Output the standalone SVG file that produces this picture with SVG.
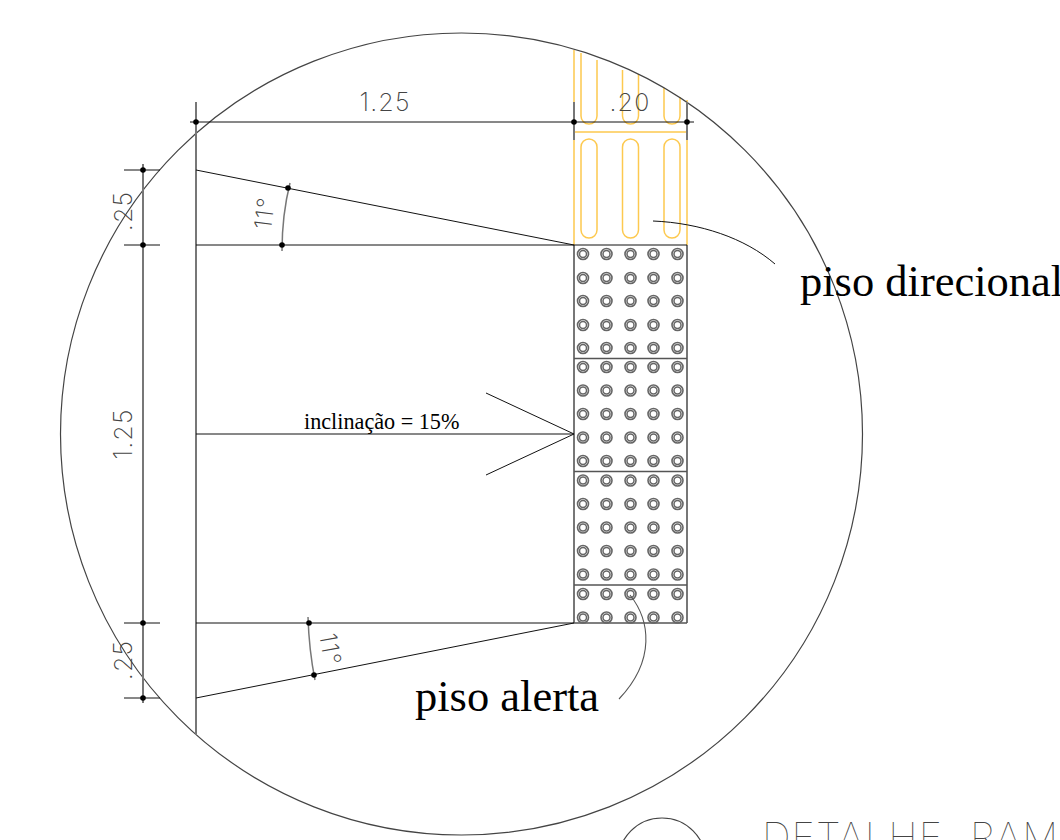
<svg xmlns="http://www.w3.org/2000/svg" width="1060" height="840" viewBox="0 0 1060 840">
<style>
.k{fill:none;stroke:#111;stroke-width:1}
.g{fill:none;stroke:#777;stroke-width:2}
.c{fill:none;stroke:#444;stroke-width:1.2}
.y{fill:none;stroke:#fdc94f;stroke-width:1.5}
.d{fill:#000}
.cad{font-family:"Inter","Liberation Sans",sans-serif;font-weight:200;fill:#444;font-size:25px;letter-spacing:1.2px}
.ser{font-family:"Liberation Serif","Times New Roman",serif;fill:#000}
</style>
<defs>
<g id="stud"><circle r="5.500" fill="none" stroke="#666" stroke-width="1.600"/><circle r="3.500" fill="none" stroke="#666" stroke-width="1.500"/></g>
<circle id="dot" r="2.800" class="d"/>
</defs>
<rect width="1060" height="840" fill="#fff"/>
<g id="piso-direcional">
<path class="y" d="M574 50V245M687 100V245M574 132H687"/>
<path class="y" d="M581 53V116a8 8 0 0 0 16 0V60"/>
<path class="y" d="M622.500 70V116a8 8 0 0 0 16 0V74"/>
<path class="y" d="M664 88V116a8 8 0 0 0 16 0V97"/>
<rect class="y" x="581" y="139" width="16" height="99" rx="8"/>
<rect class="y" x="622.500" y="139" width="16" height="99" rx="8"/>
<rect class="y" x="664" y="139" width="16" height="99" rx="8"/>
</g>
<g id="piso-alerta">
<path class="g" d="M574 245V623M687 245V623"/>
<path d="M574 358.500H687M574 471.500H687M574 585H687M574 623H687" fill="none" stroke="#555" stroke-width="1.300"/>
<path d="M574 245H687" class="k"/>
<g id="studs">
<use href="#stud" x="583" y="254"/><use href="#stud" x="606.500" y="254"/><use href="#stud" x="630.500" y="254"/><use href="#stud" x="653.500" y="254"/><use href="#stud" x="677.500" y="254"/>
<use href="#stud" x="583" y="278"/><use href="#stud" x="606.500" y="278"/><use href="#stud" x="630.500" y="278"/><use href="#stud" x="653.500" y="278"/><use href="#stud" x="677.500" y="278"/>
<use href="#stud" x="583" y="301"/><use href="#stud" x="606.500" y="301"/><use href="#stud" x="630.500" y="301"/><use href="#stud" x="653.500" y="301"/><use href="#stud" x="677.500" y="301"/>
<use href="#stud" x="583" y="325"/><use href="#stud" x="606.500" y="325"/><use href="#stud" x="630.500" y="325"/><use href="#stud" x="653.500" y="325"/><use href="#stud" x="677.500" y="325"/>
<use href="#stud" x="583" y="348"/><use href="#stud" x="606.500" y="348"/><use href="#stud" x="630.500" y="348"/><use href="#stud" x="653.500" y="348"/><use href="#stud" x="677.500" y="348"/>
<use href="#stud" x="583" y="367"/><use href="#stud" x="606.500" y="367"/><use href="#stud" x="630.500" y="367"/><use href="#stud" x="653.500" y="367"/><use href="#stud" x="677.500" y="367"/>
<use href="#stud" x="583" y="390.500"/><use href="#stud" x="606.500" y="390.500"/><use href="#stud" x="630.500" y="390.500"/><use href="#stud" x="653.500" y="390.500"/><use href="#stud" x="677.500" y="390.500"/>
<use href="#stud" x="583" y="414"/><use href="#stud" x="606.500" y="414"/><use href="#stud" x="630.500" y="414"/><use href="#stud" x="653.500" y="414"/><use href="#stud" x="677.500" y="414"/>
<use href="#stud" x="583" y="437.500"/><use href="#stud" x="606.500" y="437.500"/><use href="#stud" x="630.500" y="437.500"/><use href="#stud" x="653.500" y="437.500"/><use href="#stud" x="677.500" y="437.500"/>
<use href="#stud" x="583" y="461"/><use href="#stud" x="606.500" y="461"/><use href="#stud" x="630.500" y="461"/><use href="#stud" x="653.500" y="461"/><use href="#stud" x="677.500" y="461"/>
<use href="#stud" x="583" y="480.500"/><use href="#stud" x="606.500" y="480.500"/><use href="#stud" x="630.500" y="480.500"/><use href="#stud" x="653.500" y="480.500"/><use href="#stud" x="677.500" y="480.500"/>
<use href="#stud" x="583" y="504"/><use href="#stud" x="606.500" y="504"/><use href="#stud" x="630.500" y="504"/><use href="#stud" x="653.500" y="504"/><use href="#stud" x="677.500" y="504"/>
<use href="#stud" x="583" y="527.500"/><use href="#stud" x="606.500" y="527.500"/><use href="#stud" x="630.500" y="527.500"/><use href="#stud" x="653.500" y="527.500"/><use href="#stud" x="677.500" y="527.500"/>
<use href="#stud" x="583" y="551"/><use href="#stud" x="606.500" y="551"/><use href="#stud" x="630.500" y="551"/><use href="#stud" x="653.500" y="551"/><use href="#stud" x="677.500" y="551"/>
<use href="#stud" x="583" y="574.500"/><use href="#stud" x="606.500" y="574.500"/><use href="#stud" x="630.500" y="574.500"/><use href="#stud" x="653.500" y="574.500"/><use href="#stud" x="677.500" y="574.500"/>
<use href="#stud" x="583" y="594"/><use href="#stud" x="606.500" y="594"/><use href="#stud" x="630.500" y="594"/><use href="#stud" x="653.500" y="594"/><use href="#stud" x="677.500" y="594"/>
<use href="#stud" x="583" y="617.500"/><use href="#stud" x="606.500" y="617.500"/><use href="#stud" x="630.500" y="617.500"/><use href="#stud" x="653.500" y="617.500"/><use href="#stud" x="677.500" y="617.500"/>
</g>
</g>
<g id="connectors">
<circle class="c" cx="461.500" cy="434" r="401"/>
<path class="g" d="M196 102V735M574 102V140M687 102V140M143 164V703"/>
<path class="k" d="M190 122H694M124 170H160M124 245H160M124 623H160M124 698H160"/>
<path class="k" d="M196 170L574 245M196 245H574M196 434H574M196 623H574M196 698L574 623M486 393L574 434L486 475"/>
<path class="g" style="stroke-width:1.500" d="M290 183Q282 215 282 251M308 617Q309 650 315 680"/>
<path d="M653 221C700 223 745 238 775 264" class="k"/>
<path d="M630 595C650 620 656 660 619 699" fill="none" stroke="#555" stroke-width="1.100"/>
<use href="#dot" x="196" y="122"/><use href="#dot" x="574" y="122"/><use href="#dot" x="687" y="122"/>
<use href="#dot" x="143" y="170"/><use href="#dot" x="143" y="245"/><use href="#dot" x="143" y="623"/><use href="#dot" x="143" y="698"/>
<use href="#dot" x="288" y="188"/><use href="#dot" x="282" y="245"/><use href="#dot" x="309" y="623"/><use href="#dot" x="314" y="675"/>
</g>
<g id="labels">
<text class="cad" x="385" y="111" text-anchor="middle">1.25</text>
<text class="cad" x="630" y="111" text-anchor="middle">.20</text>
<text class="cad" transform="translate(132 211) rotate(-90)" text-anchor="middle">.25</text>
<text class="cad" transform="translate(132 434) rotate(-90)" text-anchor="middle">1.25</text>
<text class="cad" transform="translate(132 660) rotate(-90)" text-anchor="middle">.25</text>
<text class="cad" transform="translate(273 214) rotate(-83)" text-anchor="middle" style="font-size:24px">11°</text>
<text class="cad" transform="translate(322 651) rotate(80)" text-anchor="middle" style="font-size:24px">11°</text>
<text class="ser" x="304" y="429" font-size="22.200">inclinação = 15%</text>
<text class="ser" x="800" y="296" font-size="44.500">piso direcional</text>
<text class="ser" x="415" y="711" font-size="44.500">piso alerta</text>
<text y="851" style="font-family:'Inter','Liberation Sans',sans-serif;font-weight:100;fill:#444;font-size:40px;letter-spacing:1px"><tspan x="762">DETALHE</tspan><tspan x="970">RAMPA</tspan></text>
</g>
<g id="detail-mark"><circle class="c" cx="662" cy="862" r="44"/></g>
</svg>
